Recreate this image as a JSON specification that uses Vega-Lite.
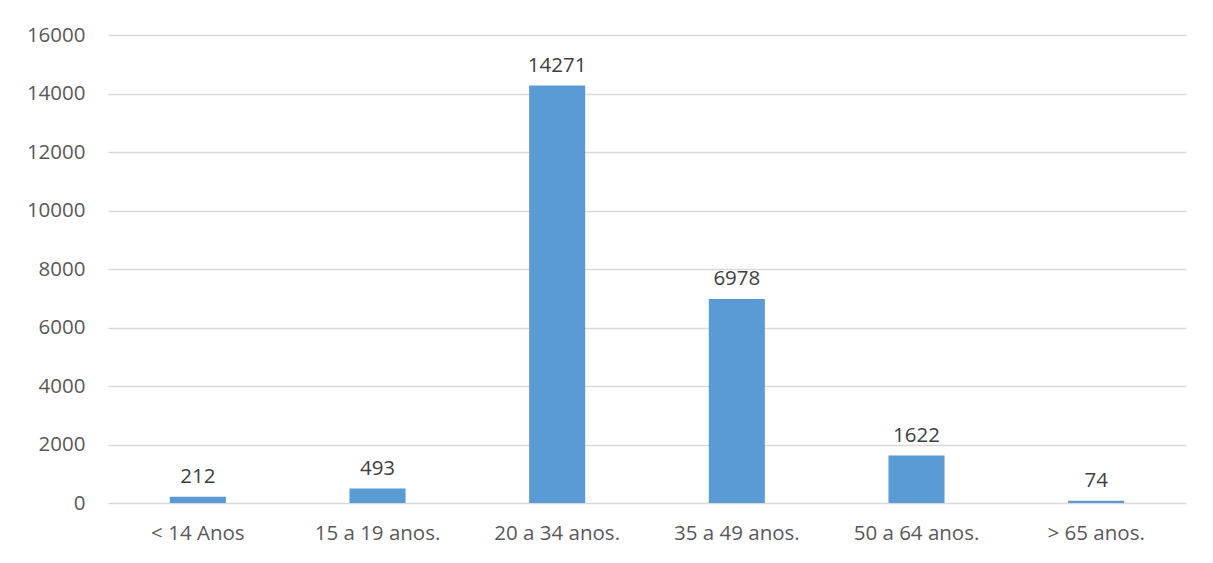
{
  "$schema": "https://vega.github.io/schema/vega-lite/v6.json",
  "width": 1078,
  "height": 468,
  "autosize": {"type": "none"},
  "padding": {"left": 108, "top": 35, "right": 27, "bottom": 60},
  "background": "white",
  "config": {
    "view": {"stroke": null},
    "font": "Open Sans"
  },
  "data": {
    "values": [
      {"faixa": "< 14 Anos", "valor": 212},
      {"faixa": "15 a 19 anos.", "valor": 493},
      {"faixa": "20 a 34 anos.", "valor": 14271},
      {"faixa": "35 a 49 anos.", "valor": 6978},
      {"faixa": "50 a 64 anos.", "valor": 1622},
      {"faixa": "> 65 anos.", "valor": 74}
    ]
  },
  "encoding": {
    "x": {
      "field": "faixa",
      "type": "nominal",
      "sort": null,
      "scale": {"paddingInner": 0.688, "paddingOuter": 0.344},
      "axis": {
        "title": null,
        "labelAngle": 0,
        "domain": false,
        "ticks": false,
        "labelFont": "Open Sans",
        "labelFontSize": 20.5,
        "labelColor": "#595959",
        "labelPadding": 20
      }
    },
    "y": {
      "field": "valor",
      "type": "quantitative",
      "scale": {"domain": [0, 16000]},
      "axis": {
        "title": null,
        "format": "d",
        "values": [0, 2000, 4000, 6000, 8000, 10000, 12000, 14000, 16000],
        "domain": false,
        "ticks": false,
        "grid": true,
        "gridColor": "#D9D9D9",
        "gridWidth": 1.3,
        "labelFont": "Open Sans",
        "labelFontSize": 20.5,
        "labelColor": "#595959",
        "labelPadding": 23
      }
    }
  },
  "layer": [
    {"mark": {"type": "bar", "color": "#5B9BD5"}},
    {
      "mark": {
        "type": "text",
        "baseline": "alphabetic",
        "dy": -14,
        "font": "Open Sans",
        "fontSize": 20.5,
        "color": "#404040"
      },
      "encoding": {"text": {"field": "valor", "type": "quantitative", "format": "d"}}
    }
  ]
}
